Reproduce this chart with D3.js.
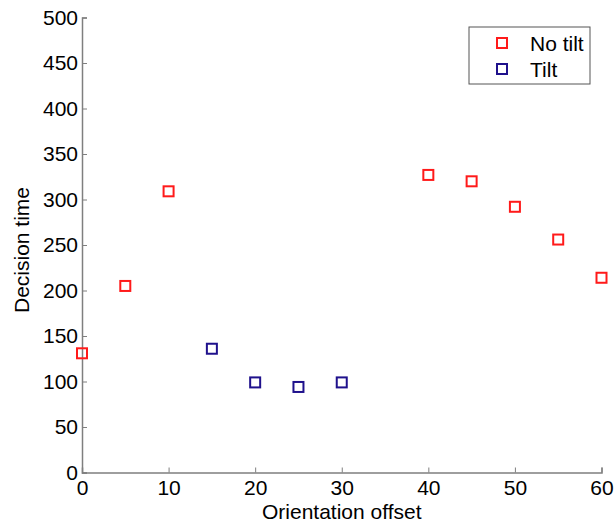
<!DOCTYPE html>
<html lang="en">
<head>
    <meta charset="utf-8">
    <script src="https://d3js.org/d3.v7.min.js"></script>
    <style>
        body { margin: 0; background: #fff; }
        text { font-family: "Liberation Sans", Arial, sans-serif; }
    </style>
</head>
<body>
<div id="chart"></div>
<script>
    // Data
    const noTiltX = [0, 5, 10, 40, 45, 50, 55, 60];
    const noTiltY = [131, 205, 309, 327, 320, 292, 256, 214];
    const tiltX = [15, 20, 25, 30];
    const tiltY = [136, 99, 94, 99];
    const xTicks = [0, 10, 20, 30, 40, 50, 60];
    const yTicks = [0, 50, 100, 150, 200, 250, 300, 350, 400, 450, 500];
    const seriesNames = ["No tilt", "Tilt"];
    const seriesColors = ["#ff1a1a", "#1f118c"];

    const W = 616, H = 525;
    const margin = {top: 17.5, right: 14.5, bottom: 52.5, left: 82};
    const width = W - margin.left - margin.right,
        height = H - margin.top - margin.bottom;
    const fontSize = "21px";

    const svg = d3.select("#chart").append("svg")
        .attr("width", W).attr("height", H);
    const g = svg.append("g")
        .attr("transform", `translate(${margin.left},${margin.top})`);

    const x = d3.scaleLinear().domain([0, 60]).range([0, width]);
    const y = d3.scaleLinear().domain([0, 500]).range([height, 0]);

    // Axes (ticks point inward, MATLAB style)
    const xAxis = g.append("g")
        .attr("transform", `translate(0,${height})`)
        .call(d3.axisBottom(x).tickValues(xTicks).tickSize(-5).tickPadding(8));
    const yAxis = g.append("g")
        .call(d3.axisLeft(y).tickValues(yTicks).tickSize(-5).tickPadding(6));

    [xAxis, yAxis].forEach(a => {
        a.select(".domain").attr("stroke", "#7f7f7f").attr("stroke-width", 1.5);
        a.selectAll(".tick line").attr("stroke", "#7f7f7f").attr("stroke-width", 1);
        a.selectAll(".tick text").attr("fill", "#000").style("font-size", fontSize)
            .style("font-family", "'Liberation Sans', Arial, sans-serif");
    });
    xAxis.selectAll(".tick text").attr("dy", "0.71em");
    yAxis.selectAll(".tick text").attr("x", -4);

    // Axis labels
    svg.append("text")
        .attr("x", margin.left + width / 2).attr("y", 519)
        .attr("text-anchor", "middle").style("font-size", fontSize)
        .text("Orientation offset");
    svg.append("text")
        .attr("transform", `translate(29,250) rotate(-90)`)
        .attr("text-anchor", "middle").style("font-size", fontSize)
        .text("Decision time");

    // Markers
    const size = 10;
    function drawSeries(xs, ys, color) {
        g.append("g").selectAll("rect")
            .data(xs.map((v, i) => [v, ys[i]]))
            .join("rect")
            .attr("x", d => x(d[0]) - size / 2)
            .attr("y", d => y(d[1]) - size / 2)
            .attr("width", size).attr("height", size)
            .attr("fill", "none")
            .attr("stroke", color)
            .attr("stroke-width", 2);
    }
    drawSeries(noTiltX, noTiltY, seriesColors[0]);
    drawSeries(tiltX, tiltY, seriesColors[1]);

    // Legend
    const legend = svg.append("g").attr("transform", "translate(469,27)");
    legend.append("rect")
        .attr("width", 121).attr("height", 57)
        .attr("fill", "#fff").attr("stroke", "#555").attr("stroke-width", 1);
    seriesNames.forEach((name, i) => {
        const row = legend.append("g").attr("transform", `translate(0,${16 + i * 26})`);
        row.append("rect")
            .attr("x", 28).attr("y", -5)
            .attr("width", size).attr("height", size)
            .attr("fill", "none").attr("stroke", seriesColors[i]).attr("stroke-width", 2);
        row.append("text")
            .attr("x", 61).attr("y", 7.5)
            .style("font-size", fontSize)
            .text(name);
    });
</script>
</body>
</html>
